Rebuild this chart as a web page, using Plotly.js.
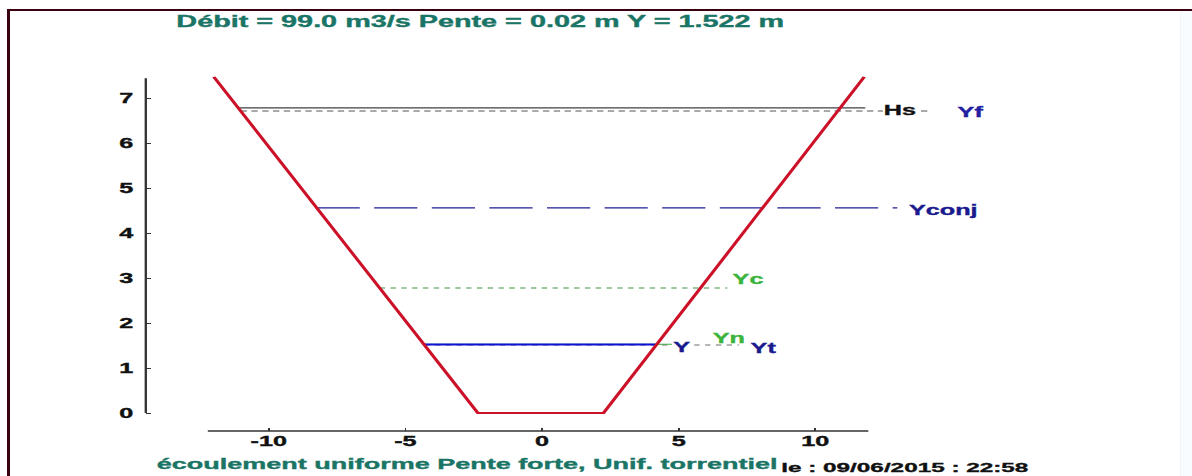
<!DOCTYPE html>
<html>
<head>
<meta charset="utf-8">
<script src="https://cdn.plot.ly/plotly-3.0.1.min.js"></script>
<style>
html,body{margin:0;padding:0;background:#fff;overflow:hidden;width:1192px;height:476px;}
#frame{position:absolute;left:7px;top:9px;width:1185px;height:467px;border-left:3px solid #3a0010;border-top:2px solid #3a0010;box-sizing:border-box;}
#edge{position:absolute;left:1180px;top:11px;width:12px;height:465px;background:#f8fcff;border-left:1px solid #eef5fc;}
#plot{position:absolute;left:0;top:0;width:662px;height:476px;transform:scaleX(1.8);transform-origin:0 0;}
</style>
</head>
<body>
<div id="frame"></div>
<div id="edge"></div>
<div id="plot"></div>
<script>
// ---- data ----
const channelX = [-12.01, -2.35, 2.25, 11.79];
const channelY = [7.47, 0, 0, 7.47];

const levelNames  = ['Yt', 'Yn', 'Y', 'Yc', 'Yconj', 'Yf', 'Hs'];
const levelValues = [1.51, 1.53, 1.522, 2.78, 4.56, 6.71, 6.78];
const levelStartX = [-4.31, -4.33, -4.32, -5.94, -8.25, -11.03, -11.12];
const levelEndX   = [7.2, 4.75, 4.19, 6.78, 13.0, 14.2, 11.83];

const labelTexts = ['Hs', 'Yf', 'Yconj', 'Yc', 'Yn', 'Y', 'Yt'];
const labelX     = [13.1, 15.67, 14.68, 7.55, 6.86, 5.14, 8.1];
const labelY     = [6.73, 6.69, 4.52, 2.98, 1.67, 1.47, 1.44];

const xTickVals = [-10, -5, 0, 5, 10];
const xTickText = ['-10', '-5', '0', '5', '10'];
const yTickVals = [0, 1, 2, 3, 4, 5, 6, 7];
const yTickText = ['0', '1', '2', '3', '4', '5', '6', '7'];

const titleText  = 'Débit = 99.0 m3/s Pente = 0.02 m Y = 1.522 m';
const footerText = 'écoulement uniforme Pente forte, Unif. torrentiel';
const dateText   = 'le : 09/06/2015 : 22:58';

// ---- styles ----
const FONT = 'Liberation Sans, Arial, Helvetica, sans-serif';
const TEAL = '#1a7566';
const levelStyle = {
  Yt:    {color: '#707070', dash: '3px,3px', width: 1},
  Yn:    {color: '#3caa3c', dash: 'solid', width: 1},
  Y:     {color: '#1010d8', dash: 'solid', width: 2},
  Yc:    {color: '#3f8f3f', dash: '3px,3px', width: 1},
  Yconj: {color: '#1e1e96', dash: '24px,8px', width: 1.2},
  Yf:    {color: '#555555', dash: '3.5px,2.5px', width: 1},
  Hs:    {color: '#404040', dash: 'solid', width: 1.3}
};
const labelStyle = {
  Hs:    {color: '#111111', bg: '#ffffff'},
  Yf:    {color: '#2020a0', bg: null},
  Yconj: {color: '#1a1a8e', bg: null},
  Yc:    {color: '#3cb43c', bg: null},
  Yn:    {color: '#3cb43c', bg: null},
  Y:     {color: '#1a1a8e', bg: '#ffffff'},
  Yt:    {color: '#1a1a8e', bg: null}
};
const axisExtent = {yTop: 7.44, xLeft: -12.23, xRight: 11.94};

const traces = levelNames.map((n, i) => ({
  type: 'scatter', mode: 'lines', name: n,
  x: [levelStartX[i], levelEndX[i]],
  y: [levelValues[i], levelValues[i]],
  line: {color: levelStyle[n].color, dash: levelStyle[n].dash, width: levelStyle[n].width},
  hoverinfo: 'skip', cliponaxis: false
}));
traces.push({
  type: 'scatter', mode: 'lines', name: 'section',
  x: channelX, y: channelY,
  line: {color: '#cc1229', width: 2},
  hoverinfo: 'skip', cliponaxis: false
});

const annotations = labelTexts.map((t, i) => ({
  xref: 'x', yref: 'y', x: labelX[i], y: labelY[i], text: t, showarrow: false,
  xanchor: 'center', yanchor: 'middle',
  font: {family: FONT, size: 14, color: labelStyle[t].color, weight: 'bold'},
  bgcolor: labelStyle[t].bg || 'rgba(0,0,0,0)', borderpad: 0
}));
annotations.push({
  xref: 'paper', yref: 'paper', x: 0.3363, y: -0.0899, text: footerText, showarrow: false,
  xanchor: 'center', yanchor: 'middle',
  font: {family: FONT, size: 15, color: TEAL, weight: 'bold'}
});
annotations.push({
  xref: 'paper', yref: 'paper', x: 0.797, y: -0.1039, text: dateText, showarrow: false,
  xanchor: 'center', yanchor: 'middle',
  font: {family: FONT, size: 13.5, color: '#111111', weight: 'bold'}
});

const layout = {
  width: 662, height: 476,
  margin: {l: 80.5, r: 51, t: 75, b: 45, pad: 0},
  paper_bgcolor: 'rgba(0,0,0,0)', plot_bgcolor: 'rgba(0,0,0,0)',
  showlegend: false,
  title: {
    text: titleText, x: 0.403, xanchor: 'center', y: 0.956, yanchor: 'middle',
    font: {family: FONT, size: 16, color: TEAL, weight: 'bold'}
  },
  xaxis: {
    range: [-14.5, 20.41], tickmode: 'array', tickvals: xTickVals, ticktext: xTickText,
    ticks: 'inside', ticklen: 3, tickwidth: 1, tickcolor: '#333',
    showgrid: false, zeroline: false, showline: false,
    tickfont: {family: FONT, size: 14, color: '#111', weight: 'bold'}
  },
  yaxis: {
    range: [-0.4, 7.511], tickmode: 'array', tickvals: yTickVals, ticktext: yTickText,
    ticks: 'inside', ticklen: 3, tickwidth: 1, tickcolor: '#333',
    showgrid: false, zeroline: false, showline: false, ticklabelstandoff: 6,
    tickfont: {family: FONT, size: 14, color: '#111', weight: 'bold'}
  },
  shapes: [
    {type: 'line', xref: 'paper', x0: 0, x1: 0, yref: 'y', y0: 0, y1: axisExtent.yTop,
     line: {color: '#333', width: 1.3}},
    {type: 'line', xref: 'x', x0: axisExtent.xLeft, x1: axisExtent.xRight, yref: 'paper', y0: 0, y1: 0,
     line: {color: '#333', width: 1.5}}
  ],
  annotations: annotations
};

Plotly.newPlot('plot', traces, layout, {displayModeBar: false, staticPlot: true, responsive: false}).then(gd => {
  // heavier glyphs, like the original bitmap font
  gd.querySelectorAll('text').forEach(t => {
    const f = t.style.fill;
    if (f) { t.style.stroke = f; t.style.strokeWidth = '0.35px'; }
  });
});
</script>
</body>
</html>
